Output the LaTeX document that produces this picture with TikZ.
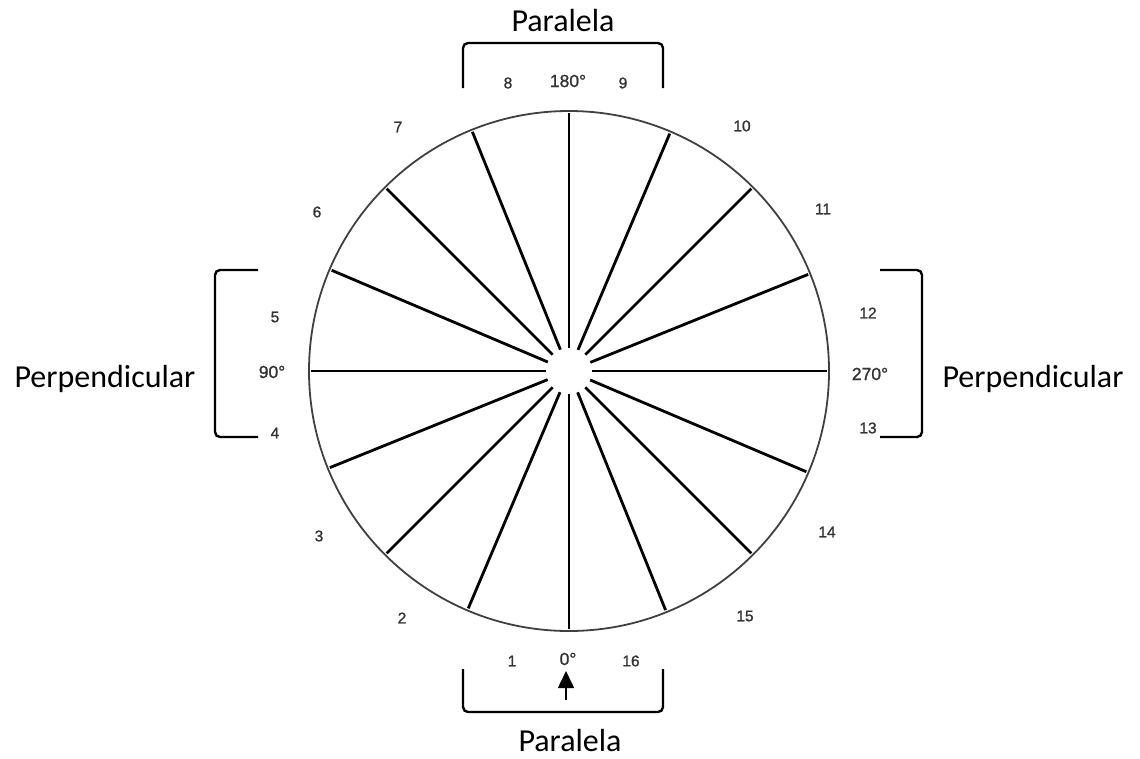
\documentclass[tikz,border=0pt]{standalone}
\usepackage{fontspec}
\setmainfont{Carlito}
\newfontfamily\numfont[FakeBold=1.2]{Liberation Sans}
\usetikzlibrary{arrows.meta}
\definecolor{numgray}{HTML}{333333}
\definecolor{rimgray}{HTML}{404040}
\tikzset{
  biglabel/.style={font=\fontsize{32}{38}\selectfont, inner sep=0pt, anchor=base},
  numlabel/.style={font=\numfont\fontsize{15.5}{18}\selectfont, text=numgray, inner sep=0pt},
  deglabel/.style={font=\numfont\fontsize{17.5}{20}\selectfont, text=numgray, inner sep=0pt},
  bracket/.style={line width=2.4pt, rounded corners=5pt},
  spoke/.style={line width=2.8pt, shorten >=3pt},
}
\begin{document}
\begin{tikzpicture}[x=1pt,y=-1pt]
\useasboundingbox (0,0) rectangle (1140,758);
% wheel
\node[circle, draw=rimgray, line width=1.8pt, minimum size=520pt, inner sep=0pt] (rim) at (569,371) {};
\node[circle, minimum size=46pt, inner sep=0pt, outer sep=0pt] (hub) at (569,371) {};
\foreach \a in {0,22.5,...,337.5}{
  \draw[spoke] (hub.\a) -- (rim.\a);
}
% brackets
\draw[bracket] (463,88) -- (463,43) -- (663,43) -- (663,88);
\draw[bracket] (463,669) -- (463,712) -- (663,712) -- (663,669);
\draw[bracket] (258,270) -- (215,270) -- (215,437) -- (258,437);
\draw[bracket] (880,270) -- (922,270) -- (922,437) -- (880,437);
% big labels
\node[biglabel] (ptop) at (563,31) {Paralela};
\node[biglabel] (pbot) at (570,751) {Paralela};
\node[biglabel] (pleft) at (105,387) {Perpendicular};
\node[biglabel] (pright) at (1033,387) {Perpendicular};
% degree labels
\node[deglabel] (d180) at (568,81) {180°};
\node[deglabel] (d0) at (568,659) {0°};
\node[deglabel] (d90) at (272,372) {90°};
\node[deglabel] (d270) at (870,374) {270°};
% sector numbers
\node[numlabel] (n1) at (512,661) {1};
\node[numlabel] (n2) at (402,618) {2};
\node[numlabel] (n3) at (319,536) {3};
\node[numlabel] (n4) at (275,433) {4};
\node[numlabel] (n5) at (275,317) {5};
\node[numlabel] (n6) at (317,212) {6};
\node[numlabel] (n7) at (398,127) {7};
\node[numlabel] (n8) at (508,83) {8};
\node[numlabel] (n9) at (623,83) {9};
\node[numlabel] (n10) at (742,126) {10};
\node[numlabel] (n11) at (823,209) {11};
\node[numlabel] (n12) at (868,313) {12};
\node[numlabel] (n13) at (868,428) {13};
\node[numlabel] (n14) at (827,532) {14};
\node[numlabel] (n15) at (745,616) {15};
\node[numlabel] (n16) at (631,661) {16};
% arrow
\coordinate (atail) at (566,700);
\coordinate (ahead) at (566,671);
\draw[line width=1.6pt, -{Triangle[width=16pt,length=17pt]}] (atail) -- (ahead);
\end{tikzpicture}
\end{document}
